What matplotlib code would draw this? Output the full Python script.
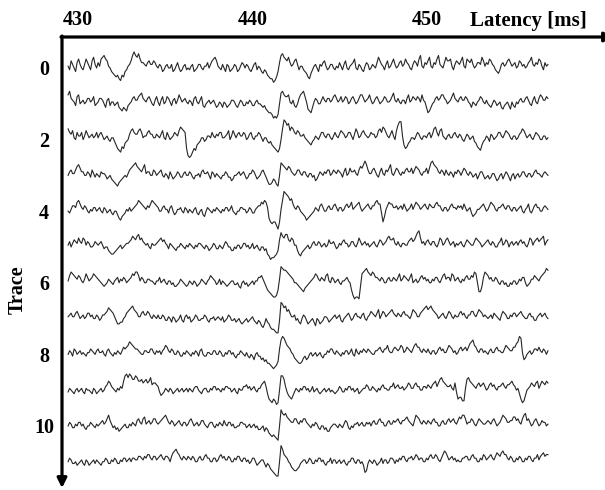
import numpy as np
import matplotlib
matplotlib.use("Agg")
import matplotlib.pyplot as plt

plt.rcParams['font.family'] = ['Liberation Serif', 'DejaVu Serif']
plt.rcParams['font.weight'] = 'bold'

# Recording window [ms] and axis labels
t_start, t_end = 429.43, 456.93
x_ticks = [430, 440, 450]
y_ticks = [0, 2, 4, 6, 8, 10]

# Single-trial traces, one character per sample ('m' = baseline, one letter = one amplitude step)
trace_0 = ("nlqomkpromlorpnlqsom" "pnrstrqnmkjihigfihkl" "noqtvtsurpponpqooqpn" "monklnommoklnpmklnol"
           "mlnoklmoomlnnpmoqrsq" "nmlomkonklmonklnpomo" "nlkmoplnmkjlkihggefh" "kptusrqspnoqrolnnlkj"
           "hgjlnomkonpqnlmoomln" "mpnloqmlnoprmlonlknp" "olmonmpsqonloqmnprom" "npqnorpomloqpnrtnmpo"
           "qsnmportonmpsqqrnloq" "poqsnmrqpromnpposqnp" "orqonlkjlopnoqrpnopm" "nqpnomnpqsonporqnlpn" "o")
trace_1 = ("rtponlqrmnomnppnoqlm" "nppomkoplnnlmnkjikji" "lmnpqooqrsponpqomloq" "nloqmnqpnlopmorpnopn"
           "monlpqnmoqlkmnomnomk" "lnmknmklmoonlkmonlln" "monllnommlkljihhgefe" "gmstrqqrnmolkmprstqn"
           "jihknpommoqonppnoqrp" "noqnoqpmnpqomnprrpno" "promnpqomnoqpnnoqson" "pnmoomprnoqpoqpnronk"
           "hikmnpqoprrpomnoqspo" "npqooqpnmknmlnoqpnmo" "mlkmonlmnkjlmnljnlkn" "mopnnpqomloqnmprqooq" "p")
trace_2 = ("sqprnmqooqmorpnopnoq" "npqomnomlnnljhgfihkl" "mprsqpprsqnooqrppnnp" "onprnmqomnoqportsrqh"
           "dcdfhgjklnnlmoonqonp" "oqqnnoprmorpnpqooqpm" "npqnmooqpnlnnlkljihg" "fhmsxwuvrtsqprqoopnm"
           "lkjlmonmoqqonppnmoqo" "nprqpnoqqompsqnoqrpo" "noqppnorsqtsqonpromr" "uwwojhiklnnmoqpnmoon"
           "pqnpstqorsonmopnnpqo" "npomlnpomnolkihgjlmo" "nlpomnoqqonprqpnmoom" "npqsrpnopnmoqpommoom" "n")
trace_3 = ("mopnnprsqoommonlpnln" "mlonnmklmkjihgijklml" "npqrstrqpoqsnoommpom" "nopmlnmkomklmonllnom"
           "monlkmmnlopnnomkonln" "mlkmmonlljkmmnomnomk" "lnnpomklmopnljhhikjh" "gmtsrqprqonmnppnmoom"
           "lnnlmjkmonmonppmnpon" "ponloqmnqoopnmprqsus" "pnnpqomloqnmpoqsnmoq" "pnmonpqooqnprqpnmooq"
           "nqtusrqonpompnmonlon" "pomoqpnmonlmnkmoomkl" "mklnnljkmnkmonljmnkm" "nlmoomlnnlmopnnmlnon" "m")
trace_4 = ("mlnpporsqonpomlnmoom" "nomlonlmnlkmmkihjkln" "momnopqsrqponpoqsrqp" "ommopnnlopmklnnomlon"
           "lnmlnolkmnkjmonmlnmo" "nmlnmoomnpmlkmmoonnl" "monllnopprqsroigfgge" "cgnsxwvustqonpomlkjh"
           "ijklmonmpqommopnnpqo" "moomnpqoprnopqromnop" "qonpprsqqlgjnprqqoop" "nopnqomnoqnprqpnopqo"
           "nqpooqrppnmoomnpqoon" "popnqomnoljklnnopqom" "nprqpnmoopqonppnmoom" "nopmlnoqmlnpqoommopo" "n")
trace_5 = ("npmoqporporqnpommnpo" "nopnlmmkjiijklmnlmno" "opqsrqstqrponomlonno" "pqrpqonlonmlkmmonmln"
           "monmlnmoonmlnmklmonl" "lnmlnpommkkmlnnlmoom" "nlmolmnlkmmklihfgghi" "kqusrttqprqnnkihjklm"
           "nlmopnnpomnomnqoopnl" "monpqoomnppnmorpnopn" "omnopnmoqpnoprsqqron" "pnmoonnpqrpqsuvropnp"
           "qonppnmorqnoqrpnopmo" "nopnmoqponnprqpomnop" "qonpommoprnoqpmopnop" "npqopnmorqnpqrpqrsnp" "q")
trace_6 = ("nqsrqpoqpnmorpnoprqp" "onmlklmonmlnopmonpom" "noprqssqnpommoonnmln" "npmnomlnnlmkklmonmlk"
           "lnmlnmklmonmlnoqponl" "molnmlklmnnllmkjmnlm" "klmnlnnppqomkihgfeef" "iovuttsrqpommlkjihjk"
           "lmnoprqonponqrnmpomn" "omlnnopnmifdeedkrstu" "srqsrpponpommopnnpon" "prnoqponprmnomnpqopn"
           "ommonppnmoqroppnrqno" "pnmonpqooqpsrmhhkpsr" "qopnnpomlnnlmkkmlnnl" "monppmklmooqponpqrsu" "t")
trace_7 = ("nopnnpqomnomnppnommo" "nlmoopqsrqpnljjkkmnp" "qrstrqpnnpqooqpnmonm" "ommonllnmknmklmolkno"
           "mnklmonllmmonlkmmnlm" "nmlnklmonllmklmkjklm" "klmnlkjlkihjmkjhggfe" "elvustqrpnnolmkjmonl"
           "jklmkimljklnnmklmnom" "nolkmnopnlmopnnmopml" "noqponprmoqpnopqrpon" "ponpqoonmorqpnnpqrst"
           "rstrqpomnopnmoqpnmon" "npqopnmooqqonprqpnon" "mnomponmloqpommonppn" "opqonmmopnnllnopnopn" "m")
trace_8 = ("monlpomnomnmlnnponmo" "pnnomlopnmlnmonmoqpq" "rtsrqpponmmoonnppnmo" "nomoprqonpommonllnmo"
           "nmlnmonlopmllnnmmoom" "monllnmoomnlkmmonmln" "lkmljmnlljkijhhgfefg" "ipuwvtrqpnmkjihhiklj"
           "kmnlmnlmnlkmmonppnmo" "nmlnmoomnpmlpnmonpon" "ponmmoopqonppronnpqp" "oprqnoqponprsqqonpon"
           "pnmoomnpqopnnprqpnom" "npqopqoqsturqonppnon" "mopnnpqoonnprqpooqqs" "twvnjkmnomnppoqonpom" "o")
trace_9 = ("lnmlkmnlmnlknmmlknmk" "lmnlmoprqonmlnmonruv" "tvussutrrsqrsqrtpqqp" "oljklnmlnmklmnlmnlmn"
           "lnmlnoomlkmnnllnmoom" "nmlnmoonnlmnlknmmoop" "nomnomlnnpqrokhgfhge" "fmuusoljihjlnmlnmoom"
           "nlmolmnlklmnlmnlmlkl" "monllnmoomnlmnklmnnp" "ommonmlnmopnnmmooqno" "pnnomnoqpnnpqoommoon"
           "ponpqroqstrqpoopnmql" "hiiggnstrqponpqopqom" "npqopnmoopqonppqrpom" "nkhfgjmnoqpoqrnprqpr" "q")
trace_10 = ("monllnmoomnlkmmonmln" "mnopnoqspnlmkljklmnl" "lnmonmpqonqrnopnoqqo" "nopqrsqonpomnopnmoom"
            "npqomnomnppnmlnoomln" "monmpnmoomnllmmoonnl" "mnlmnlmkklmjlkihghgf" "emvtstrqpooqqonpoqqo"
            "nmlnmonlkmmkljjlmnnm" "lnmlnpolkmlnnomnommo" "nomopnnpqoommopnnpop" "qonppqrponmpsrqonpon"
            "ponpqoommopnnpqopqon" "prqssqnooqpnmoqponno" "ponpqomnoqsrqoopprrp" "qonqstpqomnpqomnpoom" "n")
trace_11 = ("monllmklmnlknmklmnln" "mlkmmonllnmonllnmoom" "nomoonnpponpoqqonppn" "opqonppomprstrqonpon"
            "ponpommopnnpqoommoom" "npqopnnpommonppnmoom" "nlmoomklmnnljlkihgfe" "emvtqpomljihhijlmnnl"
            "monllnmoomnlkmmolnnl" "mnlmnlkmmoomlnnlmkgh" "lnmlnmklmolnnlmoonln" "monppnmoopnoqpnoommo"
            "npqooqpnmoqsrpnopnom" "nmmooppnnpqoommonqpn" "opqonprqprsqqonpommo" "npommonppnmooqnpqrpq" "q")

traces = [trace_0, trace_1, trace_2, trace_3, trace_4, trace_5,
          trace_6, trace_7, trace_8, trace_9, trace_10, trace_11]

step = 0.05  # one amplitude step in units of trace spacing

W, H = 605, 490
fig = plt.figure(figsize=(W / 100, H / 100), dpi=100)
ax = fig.add_axes([62 / W, 0, 1 - 62 / W, (H - 37) / H])
ax.set_xlim(429.08, 460.2)
ax.set_ylim(11.79, -0.866)

for k, code in enumerate(traces):
    v = np.array([ord(c) - ord('m') for c in code], dtype=float)
    t = np.linspace(t_start, t_end, len(v))
    ax.plot(t, k - v * step, color='#262626', lw=0.8)

for s in ax.spines.values():
    s.set_visible(False)

ax.xaxis.tick_top()
ax.set_xticks(x_ticks)
ax.set_xticklabels([str(x) for x in x_ticks])
ax.tick_params(axis='x', length=0, pad=5, labelsize=14.5)
ax.set_yticks(y_ticks)
ax.set_yticklabels([str(y) for y in y_ticks])
ax.tick_params(axis='y', length=0, pad=13, labelsize=14.5)
for lab in ax.get_yticklabels():
    lab.set_ha('center')

# Axis lines with arrow heads
arrow = dict(arrowstyle='-|>', lw=2.3, color='black', mutation_scale=14,
             shrinkA=0, shrinkB=0)
ax.annotate('', xy=(62, 2), xytext=(62, H - 36), xycoords='figure pixels',
            textcoords='figure pixels', arrowprops=arrow, annotation_clip=False)
ax.annotate('', xy=(614, H - 37), xytext=(61, H - 37), xycoords='figure pixels',
            textcoords='figure pixels', arrowprops=arrow, annotation_clip=False)

fig.text(470 / W, (H - 26) / H, 'Latency [ms]', fontsize=15, fontweight='bold',
         ha='left', va='baseline')
fig.text(18 / W, 1 - 290 / H, 'Trace', fontsize=14.5, fontweight='bold',
         rotation=90, ha='center', va='center')

fig.savefig('out.png', dpi=100)
